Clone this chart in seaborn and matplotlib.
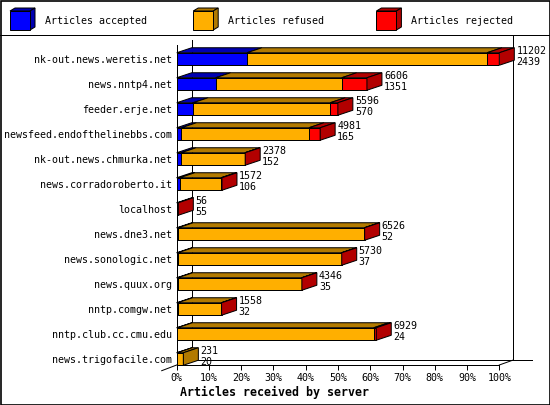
import numpy as np
import pandas as pd
import matplotlib
matplotlib.use("Agg")
import matplotlib.pyplot as plt
from matplotlib.patches import Polygon, Rectangle
from matplotlib.lines import Line2D
import seaborn as sns

# data
servers = ["nk-out.news.weretis.net", "news.nntp4.net", "feeder.erje.net",
           "newsfeed.endofthelinebbs.com", "nk-out.news.chmurka.net",
           "news.corradoroberto.it", "localhost", "news.dne3.net",
           "news.sonologic.net", "news.quux.org", "nntp.comgw.net",
           "nntp.club.cc.cmu.edu", "news.trigofacile.com"]
totals = [11202, 6606, 5596, 4981, 2378, 1572, 56, 6526, 5730, 4346, 1558, 6929, 231]
accepted = [2439, 1351, 570, 165, 152, 106, 55, 52, 37, 35, 32, 24, 20]
refused = [8335, 4377, 4759, 4427, 2216, 1431, 0, 6466, 5687, 4305, 1521, 6818, 211]
rejected = [428, 878, 267, 389, 10, 35, 1, 8, 6, 6, 5, 87, 0]
series = ["Articles accepted", "Articles refused", "Articles rejected"]
front_cols = ["#0000FF", "#FFAF00", "#FF0000"]
dark_cols = ["#0000B2", "#B27A00", "#B20000"]

W, H = 550, 405
MONO = "DejaVu Sans Mono"
plt.rcParams["font.family"] = MONO

fig = plt.figure(figsize=(W / 100, H / 100), dpi=100)
X0, X1 = 176.7, 499.3  # 0% and 100% in pixels
ROW0, ROWH = 59, 25     # first row centre, row pitch
TOP, BOT = 45, 365
ax = fig.add_axes([X0 / W, 1 - BOT / H, (X1 - X0) / W, (BOT - TOP) / H])

def P(x, y):
    return (x / W, 1 - y / H)

maxv = max(totals)
acc = np.array(accepted) / maxv * 100
ref = np.array(refused) / maxv * 100
rej = np.array(rejected) / maxv * 100

df = pd.DataFrame({"server": servers,
                   "c1": acc, "c2": acc + ref, "c3": acc + ref + rej})

# stacked front faces: draw the cumulative sums from the back
for col, c in zip(["c3", "c2", "c1"], front_cols[::-1]):
    sns.barplot(data=df, x=col, y="server", order=servers, orient="h",
                color=c, saturation=1, width=0.5, edgecolor="black",
                linewidth=0.72, errorbar=None, ax=ax)

ax.set_xlim(0, 100)
ax.set_ylim((BOT - ROW0) / ROWH, (TOP - ROW0) / ROWH)

DX = 15 / ((X1 - X0) / 100)
DY = 5 / ROWH
hw = 0.25

for i in range(len(servers)):
    segs = [(0, acc[i]), (acc[i], acc[i] + ref[i]), (acc[i] + ref[i], acc[i] + ref[i] + rej[i])]
    last = 0
    for k, (a, b) in enumerate(segs):
        if b - a <= 0:
            continue
        last = k
        ax.add_patch(Polygon([(a, i - hw), (b, i - hw), (b + DX, i - hw - DY), (a + DX, i - hw - DY)],
                             closed=True, facecolor=dark_cols[k], edgecolor="black",
                             linewidth=0.72, clip_on=False, zorder=2))
    e = segs[-1][1]
    ax.add_patch(Polygon([(e, i - hw), (e + DX, i - hw - DY), (e + DX, i + hw - DY), (e, i + hw)],
                         closed=True, facecolor=dark_cols[last], edgecolor="black",
                         linewidth=0.72, clip_on=False, zorder=2))
    xl = e + DX + 2 / ((X1 - X0) / 100)
    ax.text(xl, i - 0.32, str(totals[i]), ha="left", va="center", fontsize=7.2,
            clip_on=False, zorder=3)
    ax.text(xl, i + 0.12, str(accepted[i]), ha="left", va="center", fontsize=7.2,
            clip_on=False, zorder=3)

# back wall and floor lines
for (xa, ya), (xb, yb) in [((191.7, 40), (191.7, 360)), ((513.3, 35), (513.3, 360)),
                           ((191.7, 360), (531.7, 360)), ((499.3, 365), (513.3, 360)),
                           ((161.7, 370.7), (176.7, 365))]:
    ax.add_line(Line2D([xa / W, xb / W], [1 - ya / H, 1 - yb / H], transform=fig.transFigure,
                       color="black", linewidth=0.72, clip_on=False, zorder=0.5))

ticks = list(range(0, 101, 10))
ax.set_xticks(ticks)
ax.set_xticklabels([f"{t}%" for t in ticks], fontsize=7.2)
ax.tick_params(axis="x", direction="out", length=3.6, width=0.72, pad=2)
ax.tick_params(axis="y", length=0, pad=3.4, labelsize=7.2)
ax.set_xlabel("")
ax.set_ylabel("")
for s in ["top", "right"]:
    ax.spines[s].set_visible(False)
for s in ["left", "bottom"]:
    ax.spines[s].set_linewidth(0.72)
ax.patch.set_alpha(0)

fig.text(180 / W, 1 - 392 / H, "Articles received by server", fontsize=8.4,
         fontweight="bold", ha="left", va="center")

# legend strip
fig.add_artist(Line2D([0, 1], [1 - 35 / H, 1 - 35 / H], color="black", linewidth=0.72))
for k, name in enumerate(series):
    bx = 10 + 183.2 * k
    x0, x1, y0, y1 = bx, bx + 20, 11, 30
    fig.add_artist(Polygon([P(x0, y0), P(x1, y0), P(x1 + 5, y0 - 3), P(x0 + 5, y0 - 3)],
                           closed=True, facecolor=dark_cols[k], edgecolor="black",
                           linewidth=0.72, transform=fig.transFigure))
    fig.add_artist(Polygon([P(x1, y0), P(x1 + 5, y0 - 3), P(x1 + 5, y1 - 3), P(x1, y1)],
                           closed=True, facecolor=dark_cols[k], edgecolor="black",
                           linewidth=0.72, transform=fig.transFigure))
    fig.add_artist(Polygon([P(x0, y0), P(x1, y0), P(x1, y1), P(x0, y1)],
                           closed=True, facecolor=front_cols[k], edgecolor="black",
                           linewidth=0.72, transform=fig.transFigure))
    fig.text((bx + 35) / W, 1 - 21 / H, name, fontsize=7.2, ha="left", va="center")

fig.add_artist(Rectangle((0.5 / W, 0.5 / H), (W - 1) / W, (H - 1) / H, fill=False,
                         edgecolor="black", linewidth=1.2, transform=fig.transFigure))

fig.savefig("out.png", dpi=100)
